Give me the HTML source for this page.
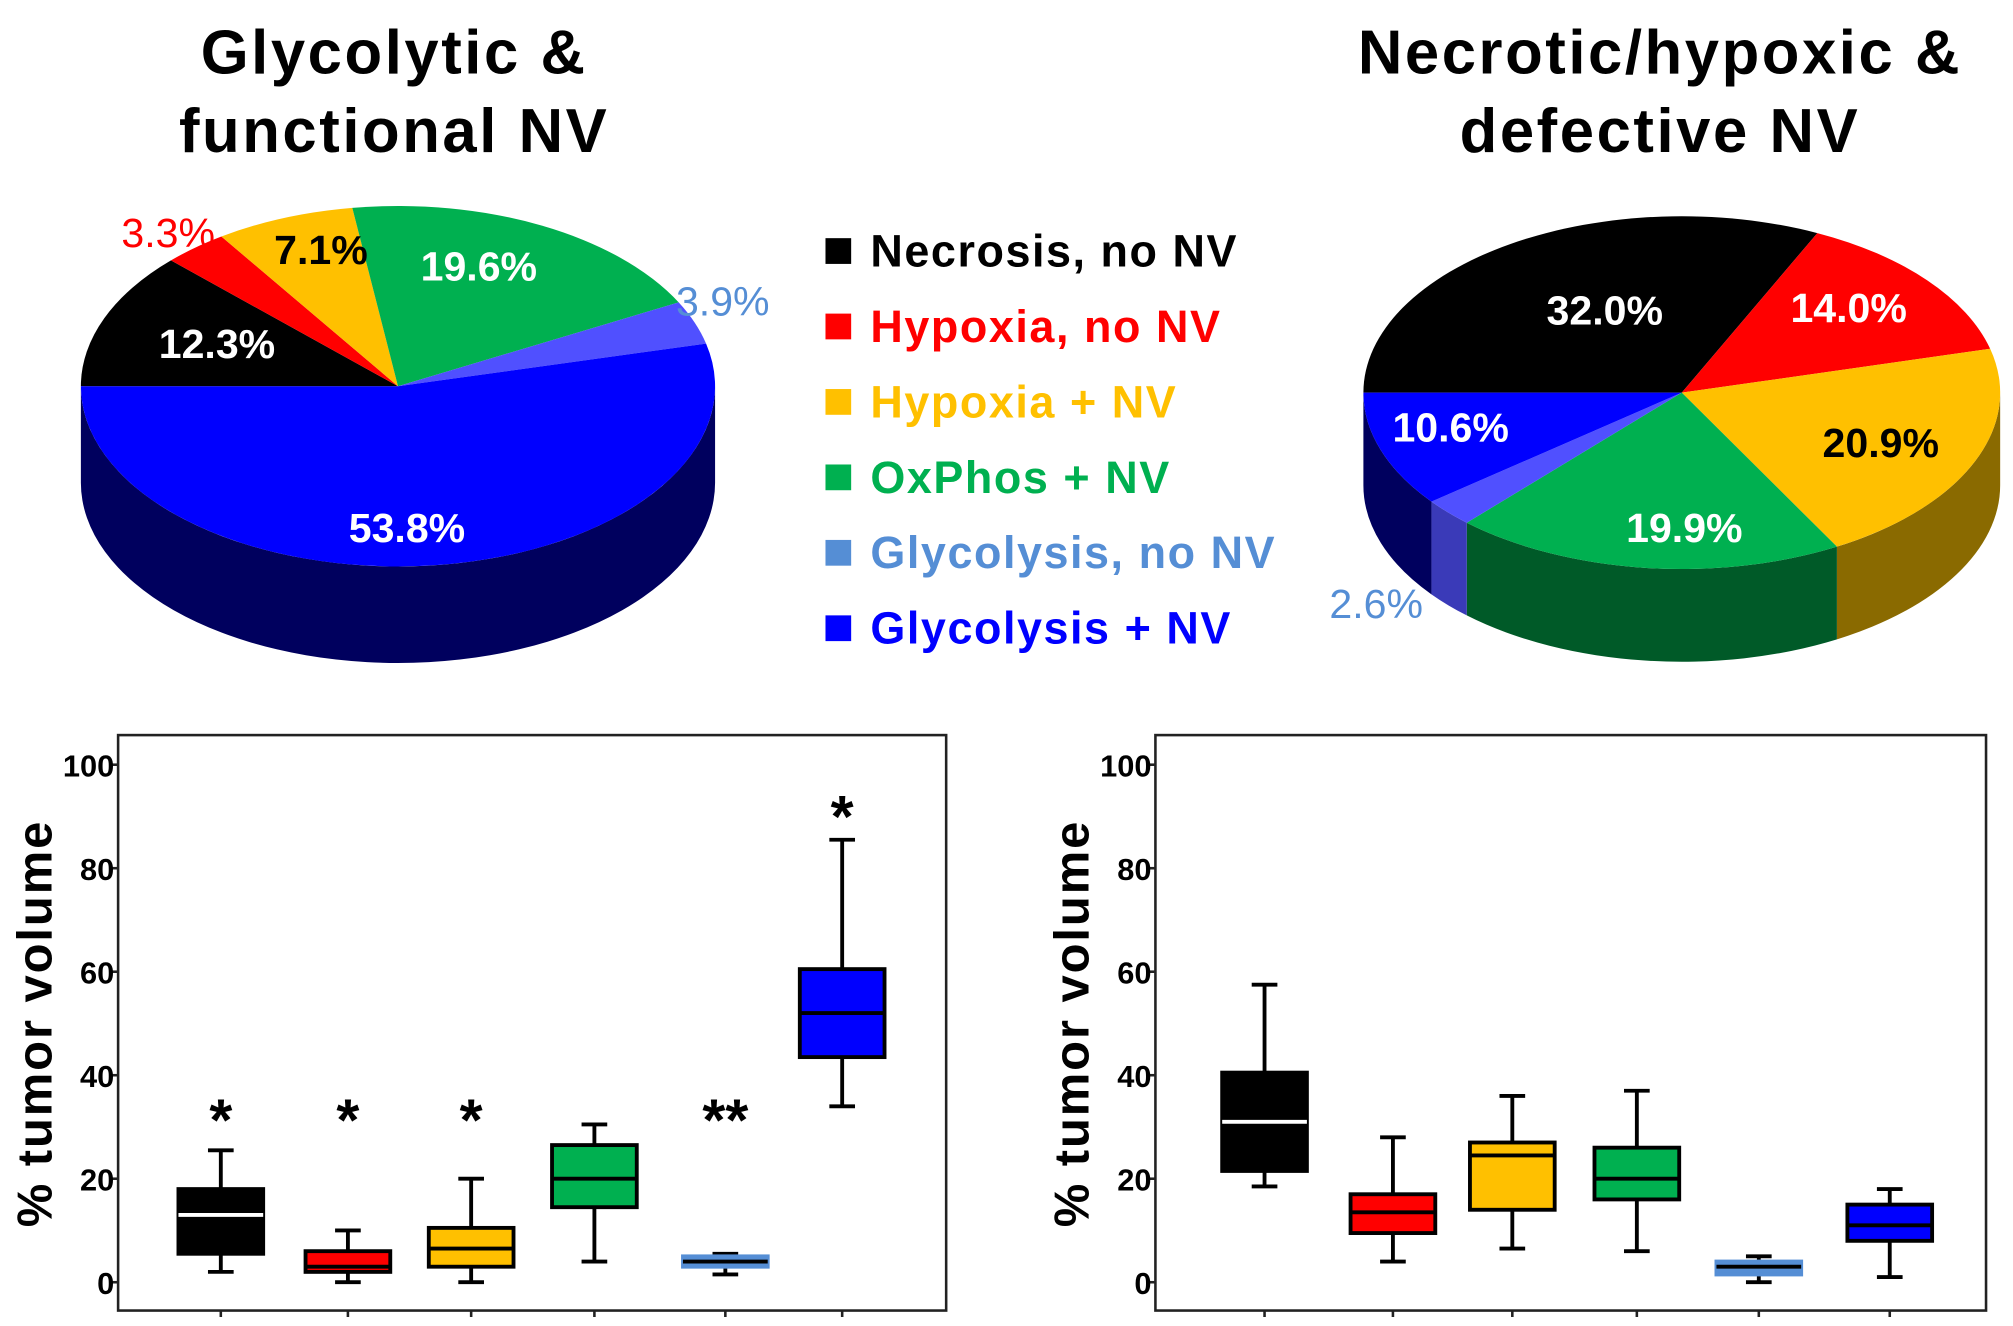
<!DOCTYPE html>
<html><head><meta charset="utf-8"><style>
html,body{margin:0;padding:0;background:#fff;}
svg{display:block;font-family:"Liberation Sans",Arial,sans-serif;}
</style></head><body>
<svg id="fig" width="2013" height="1326" viewBox="0 0 1568 1030" preserveAspectRatio="none" xmlns="http://www.w3.org/2000/svg">
<g font-weight="bold" fill="#000" text-anchor="middle" font-size="48" letter-spacing="2">
<text x="307" y="57">Glycolytic &amp;</text>
<text x="307" y="118">functional NV</text>
<text x="1293" y="57">Necrotic/hypoxic &amp;</text>
<text x="1293" y="118">defective NV</text>
</g>
<g id="pies"></g>
<g id="legend"></g>
<g id="boxes"></g>
</svg>
<script>
const NS="http://www.w3.org/2000/svg";
const categories=["Necrosis, no NV","Hypoxia, no NV","Hypoxia + NV","OxPhos + NV","Glycolysis, no NV","Glycolysis + NV"];
const colors=["#000000","#ff0000","#ffc000","#00b050","#5050ff","#0000ff"];
const sideColors=["#000000","#900000","#8a6a00","#005a28","#3a3ab8","#00005e"];
const legendColors=["#000000","#ff0000","#ffc000","#00b050","#558ed5","#0000ff"];
const leftPie=[12.3,3.3,7.1,19.6,3.9,53.8];
const rightPie=[32.0,14.0,20.9,19.9,2.6,10.6];
const yTicks=[0,20,40,60,80,100];
// box stats
const leftMin=[2,0,0,4,1.5,34];
const leftQ1=[5.5,2,3,14.5,3,43.5];
const leftMed=[13,3,6.5,20,4,52];
const leftQ3=[18,6,10.5,26.5,5,60.5];
const leftMax=[25.5,10,20,30.5,5.5,85.5];
const leftStars=["*","*","*","","**","*"];
const rightMin=[18.5,4,6.5,6,0,1];
const rightQ1=[21.5,9.5,14,16,1.5,8];
const rightMed=[31,13.5,24.5,20,3,11];
const rightQ3=[40.5,17,27,26,4,15];
const rightMax=[57.5,28,36,37,5,18];

function el(tag,attrs,parent){const e=document.createElementNS(NS,tag);for(const k in attrs)e.setAttribute(k,attrs[k]);parent.appendChild(e);return e;}

function drawPie(vals,cx,cy,rx,ry,depth,name,labels){
  const g=el('g',{},document.getElementById('pies'));
  
  
  const total=vals.reduce((a,b)=>a+b,0);
  const pt=(a,dy)=>[cx+rx*Math.cos(a*Math.PI/180),cy+(dy||0)+ry*Math.sin(a*Math.PI/180)];
  let a=180;const spans=[];
  vals.forEach(v=>{const s=a,e=a+v/total*360;spans.push([s,e]);a=e;});
  spans.forEach((sp,i)=>{
    for(const off of [0,360,720]){
      const s=Math.max(sp[0],off),e=Math.min(sp[1],off+180);
      if(e>s){
        const p1=pt(s),p2=pt(e),p3=pt(e,depth),p4=pt(s,depth);
        const d=`M${p1} A${rx},${ry} 0 0 1 ${p2} L${p3} A${rx},${ry} 0 0 0 ${p4} Z`;
        const w=el('path',{d:d,fill:sideColors[i]},g);
        
        
      }
    }
  });
  spans.forEach((sp,i)=>{
    const p1=pt(sp[0]),p2=pt(sp[1]);const large=(sp[1]-sp[0])>180?1:0;
    const s=el('path',{d:`M${cx},${cy} L${p1} A${rx},${ry} 0 ${large} 1 ${p2} Z`,fill:colors[i]},g);
    
    
  });
  labels.forEach((l,i)=>{
    const t=el('text',{x:l[0],y:l[1],fill:l[2],'font-size':32,'font-weight':l[3]?'bold':'normal','text-anchor':'middle'},g);
    t.textContent=vals[i].toFixed(1)+'%';
    
    
  });
}
drawPie(leftPie,310,300,247,140,75,'left-pie',[
 [169,278,'#fff',1],[131,192,'#ff0000',0],[250,205,'#000',1],[373,218,'#fff',1],[563,245,'#558ed5',0],[317,421,'#fff',1]]);
drawPie(rightPie,1310,305,248,137,72,'right-pie',[
 [1250,252,'#fff',1],[1440,250,'#fff',1],[1465,355,'#000',1],[1312,421,'#fff',1],[1072,480,'#558ed5',0],[1130,343,'#fff',1]]);

const lg=document.getElementById('legend');
categories.forEach((c,i)=>{
  const y=207+i*58.6;
  const r=el('rect',{x:643,y:y-22,width:20,height:20,fill:legendColors[i]},lg);
  
  
  const t=el('text',{x:678,y:y,fill:legendColors[i],'font-size':35,'font-weight':'bold','letter-spacing':1.2},lg);
  t.textContent=c;
  
  
});

function drawBoxSet(x0,x1,centers,mn,q1,md,q3,mx,stars,name){
  const g0=document.getElementById('boxes');
  const top=571,bot=1018;
  const y=v=>996-v*4.02;
  const g=el('g',{},g0);
  
  
  const f=el('rect',{x:x0,y:top,width:x1-x0,height:bot-top,fill:'none',stroke:'#222','stroke-width':2},g);
  
  
  yTicks.forEach(v=>{
    const tk=el('line',{x1:x0-5,x2:x0,y1:y(v),y2:y(v),stroke:'#222','stroke-width':2},g);
    
    
    const t=el('text',{x:x0-3,y:y(v)+9,'text-anchor':'end','font-size':24,'font-weight':'bold','font-family':'"Liberation Sans Narrow","Liberation Sans",sans-serif'},g);
    t.textContent=v;
    
    
  });
  const yl=el('text',{x:0,y:0,transform:`translate(${x0-52},795) rotate(-90)`,'text-anchor':'middle','font-size':38,'font-weight':'bold','letter-spacing':1.5},g);
  yl.textContent='% tumor volume';
  
  
  centers.forEach((cx,i)=>{
    const bt=el('line',{x1:cx,x2:cx,y1:bot,y2:bot+5,stroke:'#222','stroke-width':2},g);
    
    
    const w=33,cw=10,light=i===4;
    const ln=(a,b,c,d,cl,sw)=>el('line',{x1:a,y1:b,x2:c,y2:d,stroke:cl,'stroke-width':sw},g);
    const wl=ln(cx,y(mx[i]),cx,y(mn[i]),'#000',3);
    
    
    const c1=ln(cx-cw,y(mx[i]),cx+cw,y(mx[i]),'#000',3);
    
    
    const c2=ln(cx-cw,y(mn[i]),cx+cw,y(mn[i]),'#000',3);
    
    
    const b=el('rect',{x:cx-w,y:y(q3[i]),width:2*w,height:Math.max(1,y(q1[i])-y(q3[i])),fill:light?'#558ed5':colors[i],stroke:light?'#558ed5':'#000','stroke-width':3},g);
    
    
    const m=ln(cx-w,y(md[i]),cx+w,y(md[i]),i===0?'#fff':'#000',3);
    
    
    if(stars&&stars[i]){
      const s=el('text',{x:cx,y:(i===5?y(mx[i])-2:886),'text-anchor':'middle','font-size':46,'font-weight':'bold'},g);
      s.textContent=stars[i];
      
      
    }
  });
}
drawBoxSet(92,737,[172,271,367,463,565,656],leftMin,leftQ1,leftMed,leftQ3,leftMax,leftStars,'left-boxplot');
drawBoxSet(900,1547,[985,1085,1178,1275,1370,1472],rightMin,rightQ1,rightMed,rightQ3,rightMax,null,'right-boxplot');
</script>
</body></html>
